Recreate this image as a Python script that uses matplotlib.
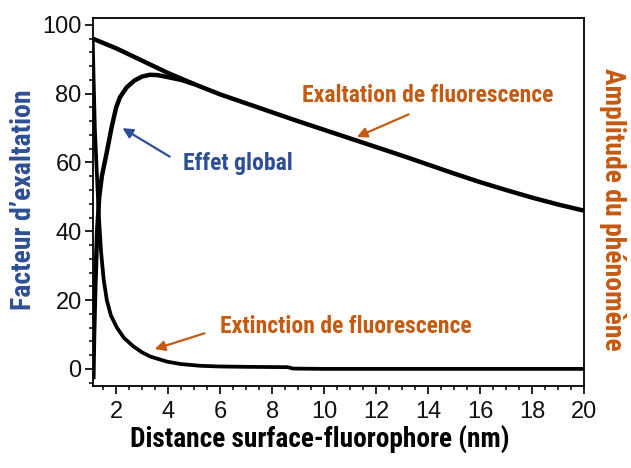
import numpy as np
import matplotlib
matplotlib.use('Agg')
import matplotlib.pyplot as plt
import matplotlib.font_manager as fm
from matplotlib.ticker import MultipleLocator

# Values
exalt_x = [1.1, 2, 3, 4, 5, 6, 7, 8, 9, 10, 11, 12, 13, 14, 15, 16, 17, 18, 19, 20]
exalt_y = [96, 93.2, 89.6, 86, 82.8, 79.8, 77.2, 74.6, 72, 69.5, 67, 64.5, 62, 59.4,
           56.8, 54.3, 52, 49.8, 47.8, 46]

global_x = [1.12, 1.15, 1.2, 1.27, 1.35, 1.45, 1.64, 1.83, 2.0, 2.15, 2.4, 2.7, 3.0,
            3.3, 3.6, 4.0, 4.5, 5.0]
global_y = [-3, 10, 25, 40, 50, 56, 63, 70.4, 76, 79, 81.8, 83.8, 85, 85.5, 85.4,
            84.8, 84.0, 82.8]

ext_x = [1.1, 1.13, 1.18, 1.25, 1.33, 1.42, 1.52, 1.64, 1.8, 2.03, 2.3, 2.67, 3.0, 3.31,
         3.96, 4.5, 5.24, 6, 7, 8.6, 8.8, 10, 14, 20]
ext_y = [95, 85, 70, 58, 45, 34, 26, 20, 15.5, 12, 9, 6.5, 4.8, 3.6,
         2.1, 1.4, 0.9, 0.7, 0.6, 0.5, 0.1, 0, 0, 0]

blue = '#2E4F95'
orange = '#C55A11'

# a narrow bold face if one is installed, else Liberation Sans
names = {f.name for f in fm.fontManager.ttflist}
narrow = 'Liberation Sans'
for cand in ['Liberation Sans Narrow', 'Roboto Condensed', 'DejaVu Sans Condensed',
             'Open Sans Condensed']:
    if cand in names:
        narrow = cand
        break

fig = plt.figure(figsize=(6.31, 4.68), dpi=100)
ax = fig.add_axes([0.147, 0.175, 0.7785, 0.7865])

ax.plot(exalt_x, exalt_y, color='black', lw=3.2, solid_capstyle='butt')
ax.plot(ext_x, ext_y, color='black', lw=2.7, solid_capstyle='butt')
ax.plot(global_x, global_y, color='black', lw=3.2, solid_capstyle='butt')

ax.set_xlim(1.1, 20)
ax.set_ylim(-5, 102)
ax.xaxis.set_major_locator(MultipleLocator(2))
ax.xaxis.set_minor_locator(MultipleLocator(0.5))
ax.yaxis.set_major_locator(MultipleLocator(20))
ax.yaxis.set_minor_locator(MultipleLocator(4))
ax.set_xticks(range(2, 21, 2))
ax.tick_params(axis='both', which='major', direction='out', length=6, width=1.3,
               labelsize=17, colors='#111111')
ax.tick_params(axis='both', which='minor', direction='out', length=3, width=1.1)
ax.tick_params(axis='x', which='major', pad=5)
ax.tick_params(axis='y', which='major', pad=2)
for lab in ax.get_xticklabels() + ax.get_yticklabels():
    lab.set_family('Liberation Sans')
for s in ax.spines.values():
    s.set_linewidth(1.3)

# annotations
ax.annotate('', xy=(2.15, 70.4), xytext=(4.15, 61.3),
            arrowprops=dict(arrowstyle='-|>', color=blue, lw=1.6, mutation_scale=15))
ax.annotate('', xy=(11.16, 67.1), xytext=(13.35, 74.3),
            arrowprops=dict(arrowstyle='-|>', color=orange, lw=1.6, mutation_scale=15))
ax.annotate('', xy=(3.38, 5.5), xytext=(5.5, 10.6),
            arrowprops=dict(arrowstyle='-|>', color=orange, lw=1.6, mutation_scale=15))

texts = []
texts.append((ax.text(13.97, 79.4, 'Exaltation de fluorescence', color=orange,
                      ha='center', va='center'), 255, 17))
texts.append((ax.text(6.67, 59.6, 'Effet global', color=blue,
                      ha='center', va='center'), 110, 17))
texts.append((ax.text(10.84, 12.2, 'Extinction de fluorescence', color=orange,
                      ha='center', va='center'), 259, 17))
texts.append((fig.text(0.507, 0.060, 'Distance surface-fluorophore (nm)',
                       ha='center', va='center'), 380, 20))
texts.append((fig.text(0.038, 0.573, "Facteur d\u2019exaltation", color=blue,
                       ha='center', va='center', rotation=90), 240, 20))
texts.append((fig.text(0.971, 0.553, 'Amplitude du ph\u00e9nom\u00e8ne', color=orange,
                       ha='center', va='center', rotation=-90), 322, 20))

# size each label so its length matches the reference, capped at the reference height
renderer = fig.canvas.get_renderer()
for t, target, maxsize in texts:
    t.set_family(narrow)
    t.set_fontweight('bold')
    t.set_fontsize(10)
    bb = t.get_window_extent(renderer)
    length = max(bb.width, bb.height)
    t.set_fontsize(min(maxsize, 10 * target / length))

fig.savefig('out.png', dpi=100)
